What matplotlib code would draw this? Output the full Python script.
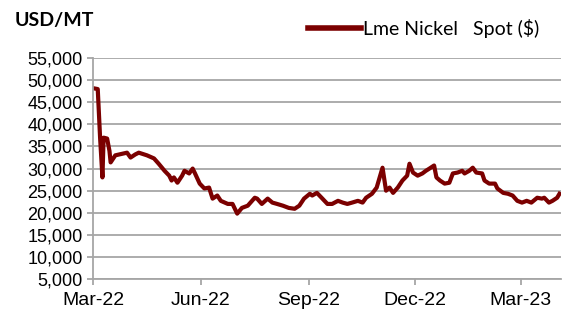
import numpy as np
import pandas as pd
import matplotlib
matplotlib.use("Agg")
import matplotlib.pyplot as plt
import matplotlib.dates as mdates
from matplotlib.ticker import FuncFormatter, MultipleLocator

# --- datos (LME Nickel spot, USD/MT) ---
dates = [
    "2022-03-01", "2022-03-05", "2022-03-07", "2022-03-09", "2022-03-10", "2022-03-13",
    "2022-03-15", "2022-03-16", "2022-03-20", "2022-03-25", "2022-03-30", "2022-04-02",
    "2022-04-06", "2022-04-09", "2022-04-16", "2022-04-22", "2022-04-26", "2022-05-01",
    "2022-05-05", "2022-05-07", "2022-05-09", "2022-05-12", "2022-05-16", "2022-05-18",
    "2022-05-22", "2022-05-25", "2022-05-27", "2022-05-31", "2022-06-04", "2022-06-08",
    "2022-06-11", "2022-06-15", "2022-06-18", "2022-06-24", "2022-06-28", "2022-07-02",
    "2022-07-06", "2022-07-11", "2022-07-17", "2022-07-19", "2022-07-23", "2022-07-28",
    "2022-08-01", "2022-08-05", "2022-08-10", "2022-08-15", "2022-08-20", "2022-08-24",
    "2022-08-28", "2022-09-02", "2022-09-04", "2022-09-08", "2022-09-12", "2022-09-17",
    "2022-09-21", "2022-09-26", "2022-09-30", "2022-10-04", "2022-10-08", "2022-10-13",
    "2022-10-17", "2022-10-20", "2022-10-25", "2022-10-29", "2022-10-31", "2022-11-03",
    "2022-11-06", "2022-11-09", "2022-11-12", "2022-11-16", "2022-11-20", "2022-11-24",
    "2022-11-26", "2022-11-29", "2022-12-03", "2022-12-07", "2022-12-10", "2022-12-13",
    "2022-12-17", "2022-12-19", "2022-12-22", "2022-12-26", "2022-12-30", "2023-01-02",
    "2023-01-06", "2023-01-10", "2023-01-12", "2023-01-16", "2023-01-19", "2023-01-22",
    "2023-01-27", "2023-01-29", "2023-02-02", "2023-02-07", "2023-02-09", "2023-02-14",
    "2023-02-18", "2023-02-22", "2023-02-26", "2023-03-02", "2023-03-06", "2023-03-10",
    "2023-03-15", "2023-03-19", "2023-03-21", "2023-03-25", "2023-03-28", "2023-04-01",
    "2023-04-03",
]
nickel = [
    48200, 48000, 37000, 28000, 37000, 36800,
    34000, 31400, 33000, 33300, 33600, 32500,
    33200, 33600, 33000, 32300, 31100, 29500,
    28400, 27300, 28000, 26800, 28400, 29500,
    28900, 30000, 28900, 26600, 25500, 25700,
    23200, 23900, 22700, 22000, 22000, 19800,
    21100, 21600, 23400, 23200, 22000, 23200,
    22300, 22000, 21600, 21100, 20900, 21600,
    23200, 24300, 23900, 24500, 23400, 22000,
    22000, 22700, 22300, 22000, 22300, 22700,
    22300, 23400, 24300, 25700, 27500, 30200,
    25000, 25700, 24500, 25700, 27300, 28400,
    31100, 29100, 28400, 28900, 29500, 30000,
    30700, 28000, 27300, 26600, 26800, 28900,
    29100, 29500, 28900, 29500, 30200, 29100,
    28900, 27300, 26600, 26600, 25500, 24500,
    24300, 23900, 22700, 22300, 22700, 22300,
    23400, 23200, 23400, 22300, 22700, 23400,
    24300,
]
x = pd.to_datetime(dates)

fig = plt.figure(figsize=(5.78, 3.16), dpi=100)
ax = fig.add_axes([0.161, 0.117, 0.809, 0.699])

ax.plot(x, nickel, color="#7B0000", linewidth=3.0, solid_joinstyle="round",
        label="Lme Nickel   Spot ($)")

ax.set_ylim(5000, 55000)
ax.yaxis.set_major_locator(MultipleLocator(5000))
ax.yaxis.set_major_formatter(FuncFormatter(lambda v, p: f"{int(v):,}"))
ax.set_xlim(pd.Timestamp("2022-03-01"), pd.Timestamp("2023-04-04"))
ax.xaxis.set_major_locator(mdates.MonthLocator(bymonth=[3, 6, 9, 12]))
ax.xaxis.set_major_formatter(mdates.DateFormatter("%b-%y"))

ax.grid(axis="y", color="#A6A6A6", linewidth=1.3)
ax.set_axisbelow(True)
for s in ["top", "right"]:
    ax.spines[s].set_visible(False)
for s in ["left", "bottom"]:
    ax.spines[s].set_color("#A6A6A6")
    ax.spines[s].set_linewidth(1.3)
ax.tick_params(axis="both", color="#A6A6A6", width=1.3, length=4,
               labelsize=13, labelcolor="black")
ax.tick_params(axis="x", labelsize=14, pad=5)
for lab in ax.get_xticklabels() + ax.get_yticklabels():
    lab.set_family("Liberation Sans")

fig.text(0.025, 0.935, "USD/MT", fontsize=14, fontweight="bold",
         family="Lato", va="center")
leg = fig.legend(loc="center left", bbox_to_anchor=(0.52, 0.911), frameon=False,
                 handlelength=2.7, handletextpad=0.1, borderaxespad=0,
                 prop={"family": "Lato", "size": 14})
leg.get_lines()[0].set_linewidth(4)

fig.savefig("out.png", dpi=100)
